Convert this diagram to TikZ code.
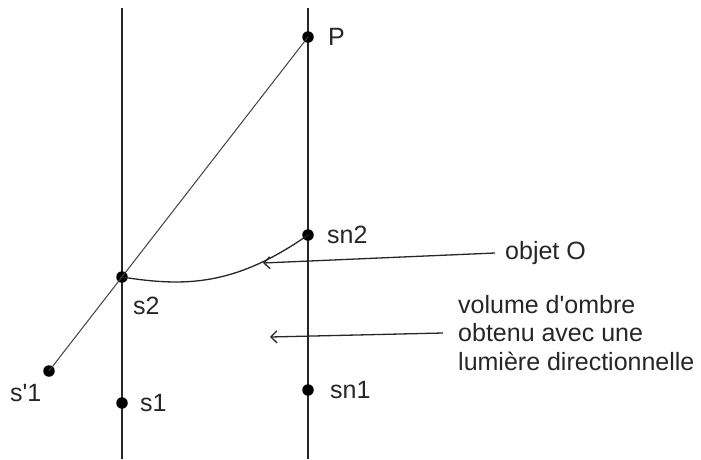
\documentclass[tikz,border=0pt]{standalone}
\usepackage{fontspec}
\setmainfont{Liberation Sans}
\usetikzlibrary{arrows.meta}
\begin{document}
\begin{tikzpicture}[x=1pt,y=-1pt,
  dot/.style={circle,fill=black,inner sep=0pt,minimum size=11.5pt},
  lab/.style={anchor=west,inner sep=0pt,text=black!85,font=\fontsize{25}{28.5}\selectfont},
  axisline/.style={line width=1.6pt,black!85},
  thinline/.style={line width=1pt,black!75},
  curveline/.style={line width=1.3pt,black!85},
  pointer/.style={line width=1.3pt,black!85,-{Straight Barb[length=6pt,width=12pt]}}]
\useasboundingbox (0,0) rectangle (701,459);
% vertical lines
\coordinate (Ltop) at (122,8);
\coordinate (Lbot) at (122,459);
\coordinate (Rtop) at (308,8);
\coordinate (Rbot) at (308,459);
\draw[axisline] (Ltop) -- (Lbot);
\draw[axisline] (Rtop) -- (Rbot);
% points
\node[dot] (P) at (308,37) {};
\node[dot] (sn2) at (308,235) {};
\node[dot] (s2) at (122,277) {};
\node[dot] (sp1) at (49,371) {};
\node[dot] (s1) at (122,403) {};
\node[dot] (sn1) at (308,390) {};
% diagonal
\draw[thinline] (sp1.center) -- (P.center);
% shadow curve
\draw[curveline] (s2.center) .. controls (185,287) and (235,286) .. (sn2.center);
% labels
\node[lab] (lP) at (328,37) {P};
\node[lab] (lsn2) at (327,235) {sn2};
\node[lab] (ls2) at (133,306) {s2};
\node[lab] (ls1) at (140,403) {s1};
\node[lab] (lsn1) at (330,390) {sn1};
\node[lab] (lsp1) at (10,393) {s\textquotesingle 1};
\node[lab] (obj) at (505,253) {objet O};
\node[lab,align=left] (vol) at (458,333) {volume d\textquotesingle ombre\\obtenu avec une\\lumière directionnelle};
% pointers
\coordinate (objtip) at (263,263);
\coordinate (voltip) at (270,337);
\draw[pointer] ([xshift=-10pt]obj.west) -- (objtip);
\draw[pointer] ([xshift=-15pt]vol.west) -- (voltip);
\end{tikzpicture}
\end{document}
